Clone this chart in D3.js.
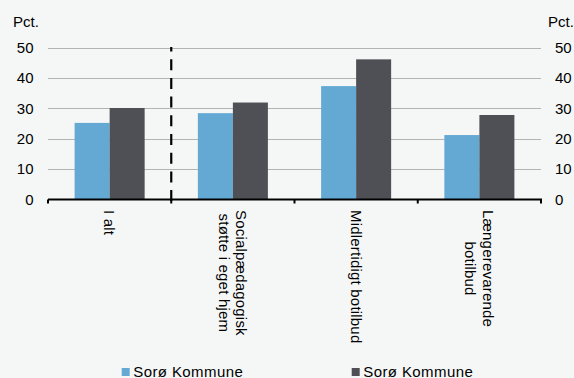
<!DOCTYPE html>
<html>
<head>
<meta charset="utf-8">
<script src="https://cdn.jsdelivr.net/npm/d3@7"></script>
<style>
  html, body { margin: 0; padding: 0; background: #f5f7f7; }
  svg { display: block; }
  text { font-family: "Liberation Sans", Arial, sans-serif; fill: #000; }
</style>
</head>
<body>
<svg id="chart" width="574" height="378"></svg>
<script>
const categories = ["I alt", "Socialpædagogisk\nstøtte i eget hjem", "Midlertidigt botilbud", "Længerevarende\nbotilbud"];
const seriesNames = ["Sorø Kommune", "Sorø Kommune"];
const seriesA = [25.2, 28.4, 37.3, 21.2];
const seriesB = [30.1, 31.9, 46.1, 27.8];
const yTicks = [0, 10, 20, 30, 40, 50];
const unitLabel = "Pct.";
const colors = ["#63a9d4", "#4f5055"];

(function () {
const svg = d3.select("#chart");
const W = 574, H = 378;
const pLeft = 48, pRight = 541, pTop = 47.5, pBottom = 199.5;

svg.append("rect").attr("width", W).attr("height", H).attr("fill", "#f5f7f7");

const y = d3.scaleLinear().domain([0, 50]).range([pBottom, pTop]);
const x0 = d3.scaleBand().domain(d3.range(categories.length)).range([pLeft, pRight]).padding(0);
const x1 = d3.scaleBand().domain([0, 1]).range([0, x0.bandwidth()]).paddingInner(0).paddingOuter(0.76);

// gridlines
svg.append("g").selectAll("line").data(yTicks.filter(t => t > 0)).join("line")
  .attr("x1", pLeft).attr("x2", pRight)
  .attr("y1", d => Math.round(y(d)) + 0.5).attr("y2", d => Math.round(y(d)) + 0.5)
  .attr("stroke", "#b3b3b3").attr("stroke-width", 1);

// bars
const series = [seriesA, seriesB];
const gBars = svg.append("g");
series.forEach((vals, si) => {
  gBars.selectAll(null).data(vals).join("rect")
    .attr("x", (d, i) => x0(i) + x1(si))
    .attr("width", x1.bandwidth())
    .attr("y", d => y(d))
    .attr("height", d => y(0) - y(d))
    .attr("fill", colors[si]);
});

// axis labels
const leftAxis = d3.axisLeft(y).tickValues(yTicks).tickSize(0).tickPadding(0);
const gl = svg.append("g").attr("transform", `translate(33.5,0)`).call(leftAxis);
gl.select(".domain").remove();
gl.selectAll("text").attr("font-size", 15).attr("font-family", "Liberation Sans, Arial, sans-serif").attr("fill", "#000");

const rightAxis = d3.axisRight(y).tickValues(yTicks).tickSize(0).tickPadding(0);
const gr = svg.append("g").attr("transform", `translate(555,0)`).call(rightAxis);
gr.select(".domain").remove();
gr.selectAll("text").attr("font-size", 15).attr("font-family", "Liberation Sans, Arial, sans-serif").attr("fill", "#000");

svg.append("text").attr("x", 13).attr("y", 26.5).attr("font-size", 15).text(unitLabel);
svg.append("text").attr("x", 548).attr("y", 26.5).attr("font-size", 15).text(unitLabel);

// separator dashed line
svg.append("line")
  .attr("x1", x0(1)).attr("x2", x0(1))
  .attr("y1", pTop - 0.5).attr("y2", pBottom + 4)
  .attr("stroke", "#000").attr("stroke-width", 2.2)
  .attr("stroke-dasharray", "11,7.7").attr("stroke-dashoffset", 6.5);

// x axis
const xAxisG = svg.append("g");
xAxisG.append("line").attr("x1", pLeft).attr("x2", pRight + 1).attr("y1", pBottom).attr("y2", pBottom)
  .attr("stroke", "#000").attr("stroke-width", 2);
const tickPos = d3.range(categories.length + 1).map(i => i < categories.length ? x0(i) : pRight);
xAxisG.selectAll("line.tk").data(tickPos).join("line").attr("class", "tk")
  .attr("x1", d => d).attr("x2", d => d).attr("y1", pBottom).attr("y2", pBottom + 4)
  .attr("stroke", "#000").attr("stroke-width", 2);

// category labels (rotated)
const labelTop = 210, lh = 17.6;
categories.forEach((c, i) => {
  const lines = c.split("\n");
  const cx = x0(i) + x0.bandwidth() / 2;
  const g = svg.append("g").attr("transform", `translate(${cx},${labelTop}) rotate(90)`);
  const texts = lines.map((ln, li) => g.append("text")
    .attr("font-size", 15)
    .attr("letter-spacing", 0.2)
    .attr("dominant-baseline", "central")
    .attr("text-anchor", "middle")
    .attr("y", (li - (lines.length - 1) / 2) * lh)
    .text(ln));
  const maxW = d3.max(texts, t => t.node().getComputedTextLength());
  texts.forEach(t => t.attr("x", maxW / 2));
});

// legend
const legendX = [121.7, 351.7];
seriesNames.forEach((n, i) => {
  svg.append("rect").attr("x", legendX[i]).attr("y", 368).attr("width", 8).attr("height", 8).attr("fill", colors[i]);
  svg.append("text").attr("x", legendX[i] + 11.6).attr("y", 377).attr("font-size", 15).attr("letter-spacing", 0.4).text(n);
});
})();
</script>
</body>
</html>
